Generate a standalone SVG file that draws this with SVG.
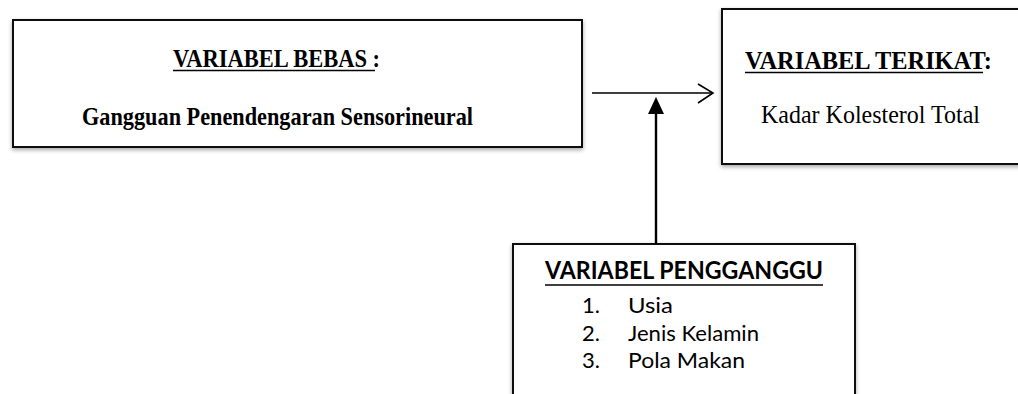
<svg xmlns="http://www.w3.org/2000/svg" width="1018" height="394" viewBox="0 0 1018 394">
<style>
.box{fill:#fff;stroke:#111;stroke-width:2;filter:url(#sh)}
.serifb{font-family:"Liberation Serif","Times New Roman",serif;font-weight:bold;font-size:24.5px;fill:#000}
.serif{font-family:"Liberation Serif","Times New Roman",serif;font-size:24.5px;fill:#000}
.sans{font-family:Lato,"Open Sans","Liberation Sans",sans-serif;font-size:22px;fill:#000}
.sansb{font-family:Lato,"Open Sans","Liberation Sans",sans-serif;font-weight:bold;font-size:24px;fill:#000}
.ul{stroke:#000;stroke-width:1.6}
.conn{stroke:#000;fill:none}
</style>
<defs>
<filter id="sh" x="-5%" y="-5%" width="110%" height="120%">
<feDropShadow dx="0" dy="2" stdDeviation="2" flood-color="#000" flood-opacity="0.35"/>
</filter>
</defs>
<rect width="1018" height="394" fill="#fff"/>
<g id="bebas">
<rect class="box" x="13" y="20" width="569" height="127"/>
<text class="serifb" x="173" y="67" textLength="207" lengthAdjust="spacingAndGlyphs">VARIABEL BEBAS :</text>
<line class="ul" x1="173" y1="70.5" x2="375" y2="70.5"/>
<text class="serifb" x="82" y="125" textLength="391" lengthAdjust="spacingAndGlyphs">Gangguan Penendengaran Sensorineural</text>
</g>
<g id="terikat">
<rect class="box" x="722" y="9" width="310" height="155"/>
<text class="serifb" x="745" y="69" textLength="247" lengthAdjust="spacingAndGlyphs">VARIABEL TERIKAT:</text>
<line class="ul" x1="745" y1="72.5" x2="983" y2="72.5"/>
<text class="serif" x="761" y="123" textLength="219" lengthAdjust="spacingAndGlyphs">Kadar Kolesterol Total</text>
</g>
<g id="pengganggu">
<rect class="box" x="513" y="244" width="342" height="170"/>
<text class="sansb" x="545" y="279" textLength="278" lengthAdjust="spacingAndGlyphs">VARIABEL PENGGANGGU</text>
<line class="ul" x1="545" y1="285" x2="823" y2="285" stroke-width="2"/>
<text class="sans" x="582" y="313">1.</text>
<text class="sans" x="628" y="313" textLength="45" lengthAdjust="spacingAndGlyphs">Usia</text>
<text class="sans" x="582" y="341">2.</text>
<text class="sans" x="628" y="341" textLength="131" lengthAdjust="spacingAndGlyphs">Jenis Kelamin</text>
<text class="sans" x="582" y="368">3.</text>
<text class="sans" x="628" y="368" textLength="117" lengthAdjust="spacingAndGlyphs">Pola Makan</text>
</g>
<g id="connectors">
<line class="conn" x1="592" y1="93" x2="713" y2="93" stroke-width="1.6"/>
<polyline class="conn" points="698,84 713,93 698,103" stroke-width="1.6"/>
<line class="conn" x1="656" y1="244" x2="656" y2="110" stroke-width="2.4"/>
<polygon points="656,97 664,114 648,114" fill="#000"/>
</g>
</svg>
